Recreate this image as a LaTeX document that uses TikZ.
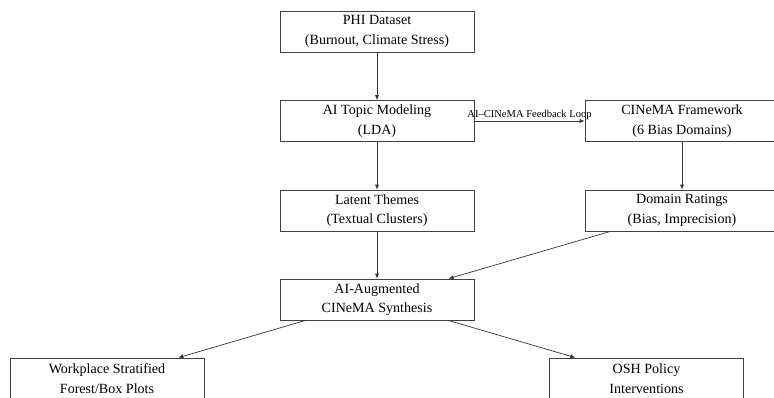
\documentclass[tikz,border=0pt]{standalone}
\usepackage{fontspec}
\setmainfont{Liberation Serif}
\usetikzlibrary{arrows.meta}
\begin{document}
\begin{tikzpicture}[box/.style={draw=black!75, line width=0.6pt, minimum width=4.85cm, minimum height=1.025cm, inner sep=0pt, align=center, font=\fontsize{10}{14}\selectfont},
flow/.style={-{Latex[length=3.5pt,width=3pt]}, draw=black!80, line width=0.5pt}]
\path[use as bounding box, clip] (0,0) rectangle (19.35,-9.925);
\node [box] (phi) at (9.425,-0.7875) {PHI Dataset\\(Burnout, Climate Stress)};
\node [box] (lda) at (9.425,-3.025) {AI Topic Modeling\\(LDA)};
\node [box] (cinema) at (17.05,-3.025) {CINeMA Framework\\(6 Bias Domains)};
\node [box] (themes) at (9.425,-5.2625) {Latent Themes\\(Textual Clusters)};
\node [box] (ratings) at (17.05,-5.2625) {Domain Ratings\\(Bias, Imprecision)};
\node [box] (synth) at (9.425,-7.4875) {AI-Augmented\\CINeMA Synthesis};
\node [box] (plots) at (2.675,-9.4625) {Workplace Stratified\\Forest/Box Plots};
\node [box] (osh) at (16.1625,-9.4625) {OSH Policy\\Interventions};
\draw [flow] (phi) -- (lda);
\draw [flow] (lda) -- node [above, inner sep=1pt, font=\fontsize{7.5}{9}\selectfont]{AI–CINeMA Feedback Loop} (cinema);
\draw [flow] (lda) -- (themes); \draw [flow] (cinema) -- (ratings);
\draw [flow] (themes) -- (synth); \draw [flow] (ratings) -- (synth);
\draw [flow] (synth) -- (plots); \draw [flow] (synth) -- (osh);
\end{tikzpicture}
\end{document}
